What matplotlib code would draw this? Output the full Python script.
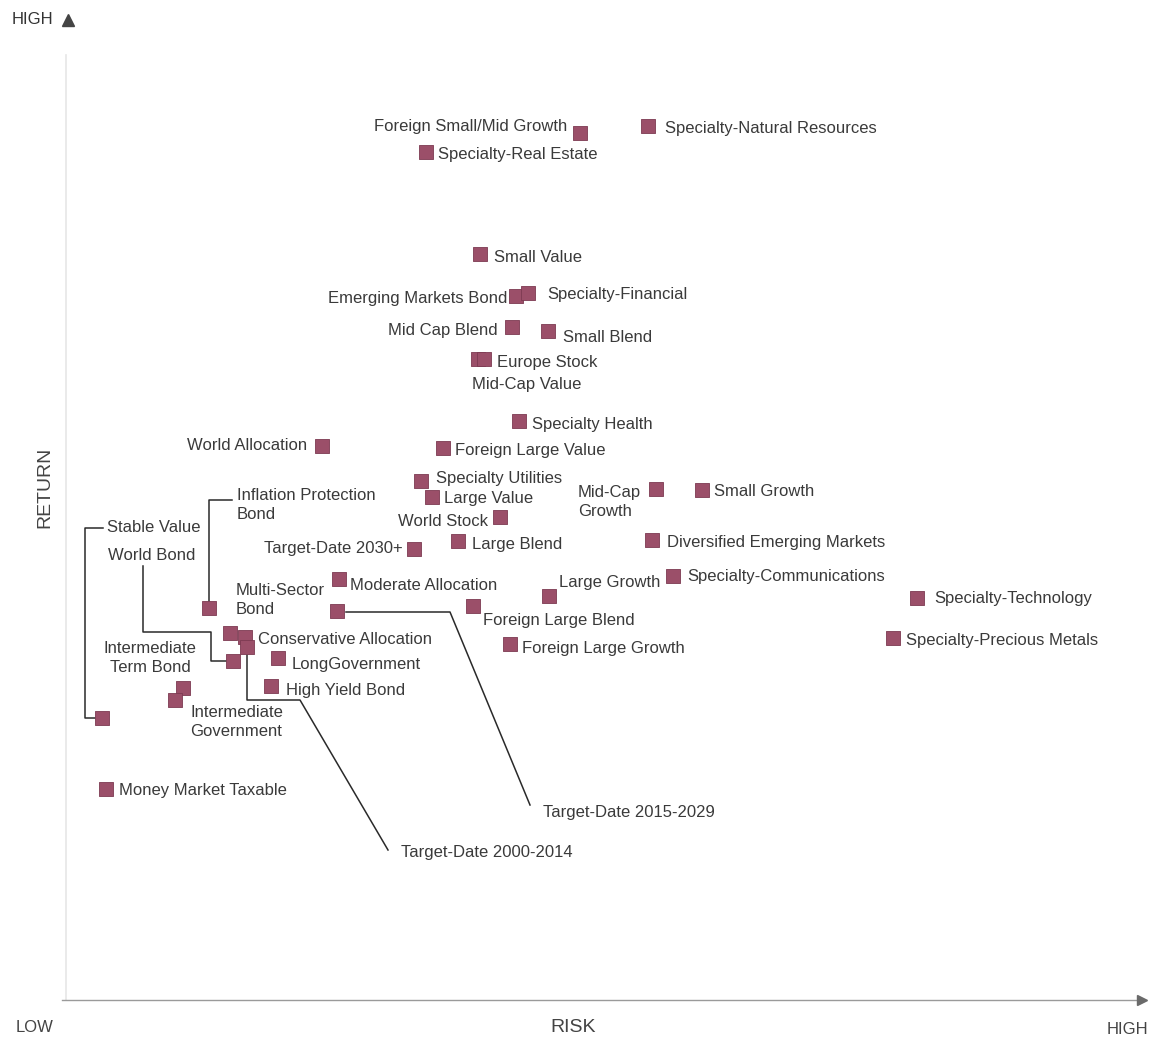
import matplotlib
matplotlib.use('Agg')
import matplotlib.pyplot as plt

# Risk / return position of each fund category (chart units: origin at lower-left corner)
CATEGORIES = [
    'Foreign Small/Mid Growth', 'Specialty-Natural Resources', 'Specialty-Real Estate',
    'Small Value', 'Emerging Markets Bond', 'Specialty-Financial', 'Mid Cap Blend',
    'Small Blend', 'Europe Stock', 'Mid-Cap Value', 'Specialty Health', 'World Allocation',
    'Foreign Large Value', 'Specialty Utilities', 'Large Value', 'World Stock',
    'Mid-Cap\nGrowth', 'Small Growth', 'Target-Date 2030+', 'Large Blend',
    'Diversified Emerging Markets', 'Moderate Allocation', 'Target-Date 2015-2029',
    'Large Growth', 'Specialty-Communications', 'Foreign Large Blend',
    'Specialty-Technology', 'Specialty-Precious Metals', 'Foreign Large Growth',
    'Multi-Sector\nBond', 'Conservative Allocation', 'Target-Date 2000-2014',
    'World Bond', 'LongGovernment', 'High Yield Bond', 'Intermediate\nTerm Bond',
    'Intermediate\nGovernment', 'Stable Value', 'Inflation Protection\nBond',
    'Money Market Taxable',
]
RISK = [514, 582, 360, 414, 450, 462, 446, 482, 412, 418, 453, 256,
        377, 355, 366, 434, 590, 636, 348, 392, 586, 273, 271, 483,
        607, 407, 851, 827, 444, 164, 179, 181, 167, 212, 205, 117,
        109, 36, 143, 40]
RETURN = [867, 874, 848, 746, 704, 707, 673, 669, 641, 641, 579, 554,
          552, 519, 503, 483, 511, 510, 451, 459, 460, 421, 389, 404,
          424, 394, 402, 362, 356, 367, 363, 353, 339, 342, 314, 312,
          300, 282, 392, 211]

# label placement: (dx, dy) in pixels from the marker, horizontal alignment
LABEL_POS = {
    'Foreign Small/Mid Growth': (-13, 6, 'right'),
    'Specialty-Natural Resources': (17, -2, 'left'),
    'Specialty-Real Estate': (12, -2, 'left'),
    'Small Value': (14, -3, 'left'),
    'Emerging Markets Bond': (-9, -2, 'right'),
    'Specialty-Financial': (19, -2, 'left'),
    'Mid Cap Blend': (-14, -4, 'right'),
    'Small Blend': (15, -7, 'left'),
    'Europe Stock': (19, -3, 'left'),
    'Mid-Cap Value': (-12, -25, 'left'),
    'Specialty Health': (13, -3, 'left'),
    'World Allocation': (-15, 0, 'right'),
    'Foreign Large Value': (12, -3, 'left'),
    'Specialty Utilities': (15, 3, 'left'),
    'Large Value': (12, -1, 'left'),
    'World Stock': (-12, -4, 'right'),
    'Mid-Cap\nGrowth': (-78, -13, 'left'),
    'Small Growth': (12, -1, 'left'),
    'Target-Date 2030+': (-11, 0, 'right'),
    'Large Blend': (14, -3, 'left'),
    'Diversified Emerging Markets': (15, -3, 'left'),
    'Moderate Allocation': (11, -6, 'left'),
    'Target-Date 2015-2029': (206, -202, 'left'),
    'Large Growth': (10, 14, 'left'),
    'Specialty-Communications': (14, -1, 'left'),
    'Foreign Large Blend': (10, -14, 'left'),
    'Specialty-Technology': (17, -1, 'left'),
    'Specialty-Precious Metals': (13, -2, 'left'),
    'Foreign Large Growth': (12, -4, 'left'),
    'Multi-Sector\nBond': (6, 33, 'left'),
    'Conservative Allocation': (13, -3, 'left'),
    'Target-Date 2000-2014': (154, -206, 'left'),
    'World Bond': (-125, 106, 'left'),
    'LongGovernment': (14, -6, 'left'),
    'High Yield Bond': (15, -5, 'left'),
    'Intermediate\nTerm Bond': (-33, 30, 'center'),
    'Intermediate\nGovernment': (15, -22, 'left'),
    'Stable Value': (5, 190, 'left'),
    'Inflation Protection\nBond': (28, 103, 'left'),
    'Money Market Taxable': (13, -2, 'left'),
}

# elbow connectors from a marker to a distant label, as (dx, dy) pixel steps from the marker
LEADERS = {
    'Stable Value': [(-7, 0), (-17, 0), (-17, 190), (1, 190)],
    'World Bond': [(-7, 0), (-22, 0), (-22, 29), (-90, 29), (-90, 95)],
    'Inflation Protection\nBond': [(0, 7), (0, 108), (23, 108)],
    'Target-Date 2015-2029': [(9, -1), (113, -1), (193, -194)],
    'Target-Date 2000-2014': [(0, -8), (0, -53), (53, -53), (141, -203)],
}

MARK = '#9b4f69'
INK = '#3a3a3a'
plt.rcParams.update({'font.family': ['Liberation Sans', 'DejaVu Sans'], 'font.size': 12})

fig = plt.figure(figsize=(11.6, 10.4), dpi=100)
ax = fig.add_axes([0, 0, 1, 1])
ax.set_xlim(-66, 1094)
ax.set_ylim(-40, 1000)
ax.axis('off')

# axes drawn by hand: faint vertical, grey horizontal arrow
ax.plot([0, 0], [0, 945], color='#e6e6e6', lw=1.2, zorder=1)
ax.plot([-4, 1074], [0, 0], color='#9a9a9a', lw=1.0, zorder=1)
ax.plot([1076], [0], marker='>', color='#6a6a6a', ms=7, zorder=2)
ax.plot([2], [980], marker='^', color='#444444', ms=9, zorder=2)
ax.text(-54, 980, 'HIGH', ha='left', va='center', fontsize=12, color='#333333')
ax.text(-31, -27, 'LOW', ha='center', va='center', fontsize=12, color='#444444')
ax.text(507, -27, 'RISK', ha='center', va='center', fontsize=14, color='#444444')
ax.text(1061, -30, 'HIGH', ha='center', va='center', fontsize=12, color='#444444')
ax.text(-21, 513, 'RETURN', ha='center', va='center', rotation=90, fontsize=14,
        color='#444444')

ax.scatter(RISK, RETURN, marker='s', s=90, color=MARK, edgecolor='#7d3a52',
           linewidths=0.6, zorder=4)

for name, x, y in zip(CATEGORIES, RISK, RETURN):
    dx, dy, ha = LABEL_POS[name]
    ax.annotate(name, (x, y), xytext=(dx, dy), textcoords='offset pixels',
                ha=ha, va='center', color=INK, fontsize=12, linespacing=1.4,
                zorder=5)
    if name in LEADERS:
        pts = LEADERS[name]
        ax.plot([x + p[0] for p in pts], [y + p[1] for p in pts],
                color='#2a2a2a', lw=1.1, zorder=3)

fig.savefig('out.png', facecolor='white')
